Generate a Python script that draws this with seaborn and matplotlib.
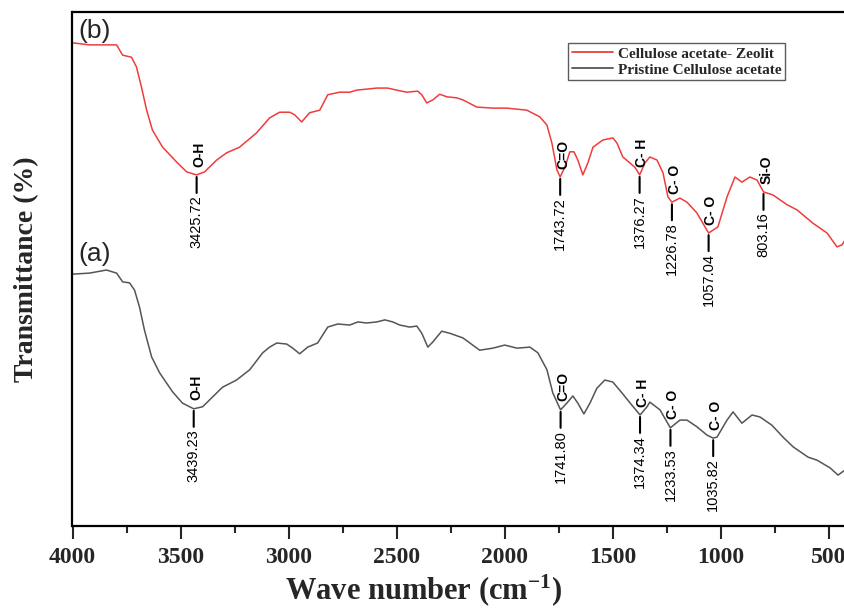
import numpy as np
import pandas as pd
import matplotlib
matplotlib.use("Agg")
import matplotlib.pyplot as plt
import seaborn as sns
from matplotlib import font_manager

# ---------------- data ----------------
wn_b = [4000, 3921, 3796, 3768, 3727, 3704, 3681, 3657, 3630, 3583, 3518, 3472, 3426,
        3389, 3333, 3287, 3227, 3148, 3088, 3042, 2995, 2972, 2940, 2903, 2856, 2819,
        2764, 2717, 2685, 2592, 2542, 2500, 2454, 2403, 2384, 2361, 2333, 2301, 2268,
        2222, 2194, 2129, 2055, 1991, 1898, 1838, 1805, 1782, 1759, 1744, 1722, 1699,
        1680, 1662, 1639, 1616, 1592, 1546, 1500, 1481, 1454, 1398, 1376, 1352, 1329,
        1296, 1268, 1245, 1227, 1190, 1157, 1111, 1074, 1057, 1014, 972, 935, 903, 866,
        833, 803, 759, 694, 648, 574, 509, 463, 440, 426]
T_b = [94.0, 93.6, 93.6, 91.6, 91.2, 89.3, 85.4, 80.9, 77.0, 73.7, 70.8, 68.9, 68.3,
       68.9, 71.2, 72.6, 73.7, 76.5, 79.4, 80.5, 80.5, 80.0, 78.6, 80.4, 80.9, 83.9,
       84.4, 84.4, 84.8, 85.2, 85.2, 84.8, 84.4, 84.6, 83.9, 82.3, 82.9, 84.0, 83.5,
       83.3, 82.9, 81.5, 81.3, 81.3, 80.9, 79.6, 78.0, 74.5, 69.3, 67.9, 69.8, 72.8,
       72.8, 71.2, 68.3, 70.6, 73.7, 75.1, 75.5, 74.5, 71.8, 69.8, 68.3, 70.6, 71.8,
       71.2, 68.7, 64.0, 63.0, 63.8, 63.0, 60.9, 58.2, 57.0, 58.2, 64.0, 67.9, 66.9,
       67.9, 67.3, 65.0, 64.4, 62.5, 61.5, 58.9, 57.0, 54.3, 54.7, 55.6]

wn_a = [4000, 3921, 3843, 3796, 3768, 3736, 3713, 3690, 3667, 3634, 3597, 3537, 3491,
        3439, 3398, 3352, 3306, 3241, 3180, 3120, 3088, 3055, 3009, 2981, 2949, 2912,
        2866, 2819, 2773, 2717, 2680, 2639, 2592, 2555, 2518, 2486, 2440, 2407, 2384,
        2356, 2333, 2292, 2255, 2194, 2116, 2055, 2000, 1944, 1884, 1847, 1805, 1778,
        1742, 1713, 1685, 1662, 1634, 1606, 1574, 1537, 1500, 1458, 1412, 1374, 1342,
        1329, 1282, 1234, 1190, 1157, 1111, 1065, 1036, 1018, 972, 944, 903, 856, 819,
        764, 713, 666, 597, 555, 495, 458, 426]
T_a = [49.0, 49.2, 49.8, 49.2, 47.5, 47.3, 45.9, 42.6, 38.1, 32.9, 29.8, 26.1, 23.9,
       22.8, 23.2, 25.1, 27.0, 28.4, 30.4, 33.7, 34.8, 35.6, 35.4, 34.6, 33.5, 34.8,
       35.6, 38.7, 39.3, 39.1, 39.7, 39.5, 39.7, 40.1, 39.7, 39.1, 38.7, 38.9, 37.5,
       34.8, 35.8, 37.9, 37.5, 36.6, 34.2, 34.6, 35.2, 34.6, 34.8, 33.7, 30.4, 25.9,
       22.6, 23.9, 25.3, 23.9, 21.8, 23.9, 26.8, 28.4, 28.0, 25.9, 23.5, 21.6, 23.2,
       24.1, 22.6, 19.1, 20.6, 20.6, 19.3, 17.7, 17.1, 17.3, 20.6, 22.2, 20.0, 21.6,
       21.2, 19.6, 17.3, 15.4, 13.4, 12.8, 11.3, 9.9, 10.9]

series_names = ["Cellulose acetate- Zeolit", "Pristine Cellulose acetate"]
panel_labels = ["(b)", "(a)"]

peaks_b = ["3425.72", "1743.72", "1376.27", "1226.78", "1057.04", "803.16"]
bonds_b = ["O-H", "C=O", "C- H", "C- O", "C- O", "Si-O"]
peaks_a = ["3439.23", "1741.80", "1374.34", "1233.53", "1035.82"]
bonds_a = ["O-H", "C=O", "C- H", "C- O", "C- O"]

x_ticks = [4000, 3500, 3000, 2500, 2000, 1500, 1000, 500]

# ---------------- style ----------------
sns.set_style("ticks")
names = {f.name for f in font_manager.fontManager.ttflist}
serif = "Liberation Serif" if "Liberation Serif" in names else "DejaVu Serif"
sans = "Liberation Sans" if "Liberation Sans" in names else "DejaVu Sans"
plt.rcParams["mathtext.fontset"] = "custom"
plt.rcParams["mathtext.rm"] = serif
plt.rcParams["mathtext.bf"] = serif + ":bold"
plt.rcParams["mathtext.default"] = "bf"

RED = "#f03c3c"
GRAY = "#555555"

df = pd.concat([
    pd.DataFrame({"wn": wn_b, "T": T_b, "sample": series_names[0]}),
    pd.DataFrame({"wn": wn_a, "T": T_a, "sample": series_names[1]}),
])

fig = plt.figure(figsize=(8.45, 6.09), dpi=100)
ax = fig.add_axes([72.5 / 845, 83 / 609, 1 - 72.5 / 845, 514 / 609])

sns.lineplot(data=df, x="wn", y="T", hue="sample", hue_order=series_names,
             palette=[RED, GRAY], linewidth=1.1, ax=ax, legend=True, estimator=None, sort=False)

ax.set_xlim(4000, 426)
ax.set_ylim(0, 100)
ax.set_xticks(x_ticks)
ax.set_xticks(np.arange(3750, 400, -500), minor=True)
ax.set_yticks([])
for s in ["left", "bottom", "top"]:
    ax.spines[s].set_linewidth(1.6)
    ax.spines[s].set_color("black")
ax.spines["right"].set_visible(False)
ax.tick_params(axis="x", which="major", direction="out", length=9, width=1.5, pad=6)
ax.tick_params(axis="x", which="minor", direction="out", length=5, width=1.5)
for lab in ax.get_xticklabels():
    lab.set_fontfamily(serif)
    lab.set_fontweight("bold")
    lab.set_fontsize(17)

ax.set_xlabel("Wave number (cm$^{-1}$)", fontfamily=serif, fontweight="bold", fontsize=22)
ax.xaxis.label.set_verticalalignment("center")
ax.xaxis.set_label_coords(0.455, -(590 - 526) / 514)
ax.set_ylabel("Transmittance (%)", fontfamily=serif, fontweight="bold", fontsize=20, labelpad=24)

# legend
leg = ax.legend(loc="upper left", bbox_to_anchor=(568 / 845, 1 - 43 / 609),
                bbox_transform=fig.transFigure, frameon=True, fancybox=False,
                handlelength=2.7, handletextpad=0.3, borderpad=0.25, labelspacing=0.15,
                prop={"family": serif, "weight": "bold", "size": 11}, borderaxespad=0)
leg.get_frame().set_edgecolor("#333333")
leg.get_frame().set_linewidth(1.0)
for ln in leg.get_lines():
    ln.set_linewidth(1.3)

# panel labels
ax.text(6 / 772, 1 - 19 / 514, panel_labels[0], transform=ax.transAxes, fontsize=19,
        fontfamily=sans, ha="left", va="center")
ax.text(6 / 772, 1 - 242 / 514, panel_labels[1], transform=ax.transAxes, fontsize=19,
        fontfamily=sans, ha="left", va="center")

# peak annotations
def annotate(wn, T, peaks, bonds):
    xp = np.array(wn[::-1], float)
    yp = np.array(T[::-1], float)
    for p, b in zip(peaks, bonds):
        x = float(p)
        y = np.interp(x, xp, yp)
        ax.annotate("", xy=(x, y), xytext=(0, -13), textcoords="offset points",
                    arrowprops=dict(arrowstyle="-", lw=1.5, color="black", shrinkA=0, shrinkB=1.5))
        ax.annotate(p, xy=(x, y), xytext=(0, -14.5), textcoords="offset points",
                    rotation=90, ha="center", va="top", fontsize=10.5, fontfamily=sans,
                    color="black")
        ax.annotate(b, xy=(x, y), xytext=(2, 6), textcoords="offset points",
                    rotation=90, ha="center", va="bottom", fontsize=10, fontfamily=sans,
                    fontweight="bold", color="black")

annotate(wn_b, T_b, peaks_b, bonds_b)
annotate(wn_a, T_a, peaks_a, bonds_a)

fig.savefig("out.png", dpi=100)
